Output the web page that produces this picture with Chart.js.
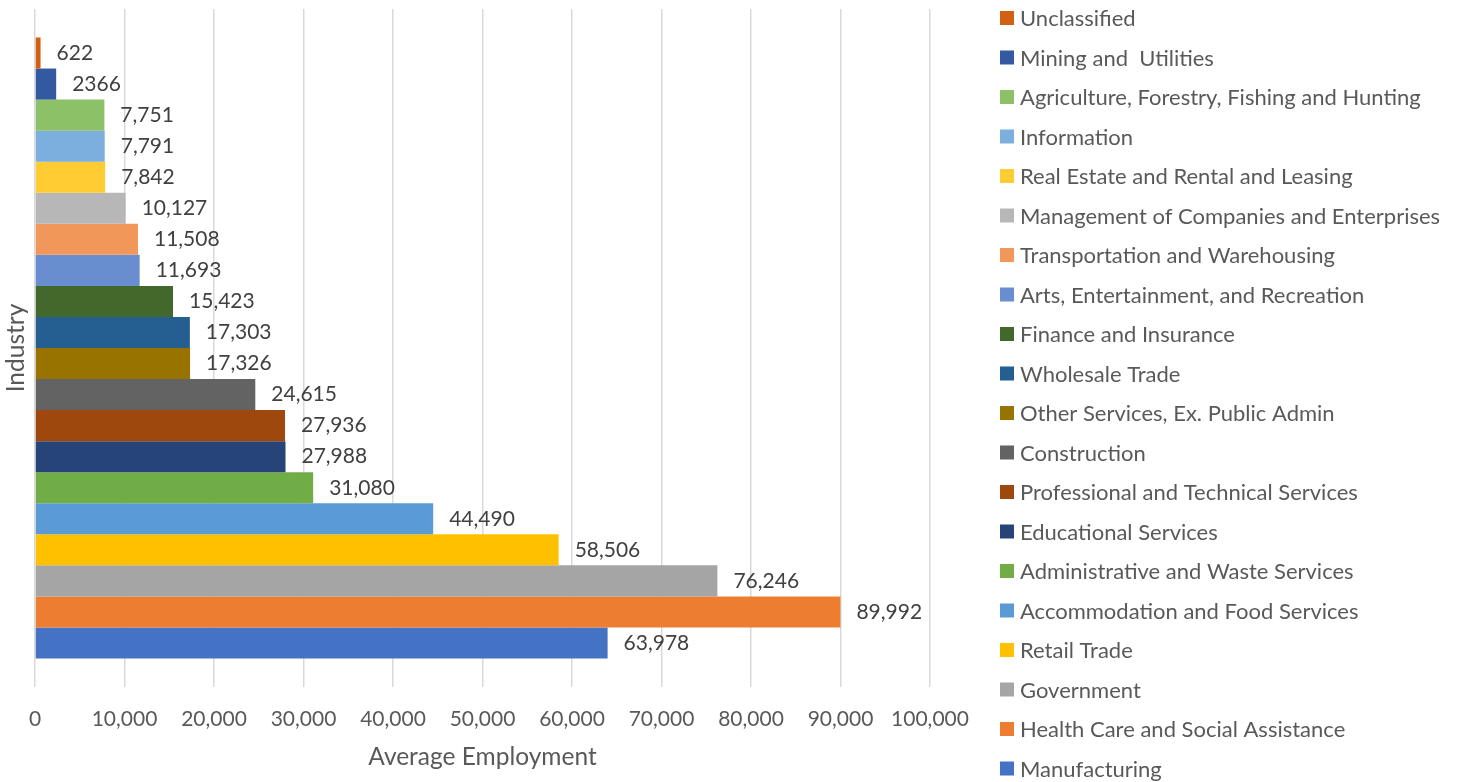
<!DOCTYPE html>
<html>
<head>
<meta charset="utf-8">
<script src="https://cdn.jsdelivr.net/npm/chart.js@4.4.1/dist/chart.umd.min.js"></script>
<style>
html, body { margin: 0; padding: 0; background: #fff; }
#caixa { width: 1463px; height: 782px; }
</style>
</head>
<body>
<div id="caixa"><canvas id="graficoEmprego"></canvas></div>
<script>
// ordem de cima para baixo, igual à legenda
const industrias = [
    'Unclassified',
    'Mining and  Utilities',
    'Agriculture, Forestry, Fishing and Hunting',
    'Information',
    'Real Estate and Rental and Leasing',
    'Management of Companies and Enterprises',
    'Transportation and Warehousing',
    'Arts, Entertainment, and Recreation',
    'Finance and Insurance',
    'Wholesale Trade',
    'Other Services, Ex. Public Admin',
    'Construction',
    'Professional and Technical Services',
    'Educational Services',
    'Administrative and Waste Services',
    'Accommodation and Food Services',
    'Retail Trade',
    'Government',
    'Health Care and Social Assistance',
    'Manufacturing'
];
const empregoMedio = [622, 2366, 7751, 7791, 7842, 10127, 11508, 11693, 15423, 17303,
    17326, 24615, 27936, 27988, 31080, 44490, 58506, 76246, 89992, 63978];
const rotulosValores = ['622', '2366', '7,751', '7,791', '7,842', '10,127', '11,508', '11,693', '15,423', '17,303',
    '17,326', '24,615', '27,936', '27,988', '31,080', '44,490', '58,506', '76,246', '89,992', '63,978'];
const cores = ['#D26012', '#335AA1', '#8CC168', '#7CAFDD', '#FFCD33', '#B7B7B7', '#F1975A', '#698ED0', '#43682B', '#255E91',
    '#997300', '#636363', '#9E480E', '#264478', '#70AD47', '#5B9BD5', '#FFC000', '#A5A5A5', '#ED7D31', '#4472C4'];

const fonte = 'Lato';

// rótulos de valor ao lado de cada barra
const rotulosBarras = {
    id: 'rotulosBarras',
    afterDatasetsDraw(chart) {
        const ctx = chart.ctx;
        ctx.save();
        ctx.font = '21px ' + fonte;
        ctx.fillStyle = '#404040';
        ctx.textBaseline = 'middle';
        chart.data.datasets.forEach((ds, i) => {
            const barra = chart.getDatasetMeta(i).data[0];
            ctx.fillText(rotulosValores[i], barra.x + 16, barra.y);
        });
        ctx.restore();
    }
};

// legenda à direita, uma coluna só
const legendaLateral = {
    id: 'legendaLateral',
    afterDraw(chart) {
        const ctx = chart.ctx;
        ctx.save();
        ctx.font = '22px ' + fonte;
        ctx.textBaseline = 'middle';
        industrias.forEach((nome, i) => {
            const y = 18 + i * 39.5;
            ctx.fillStyle = cores[i];
            ctx.fillRect(1000, y - 7, 14, 14);
            ctx.fillStyle = '#595959';
            ctx.fillText(nome, 1020, y + 1);
        });
        ctx.restore();
    }
};

new Chart(document.getElementById('graficoEmprego'), {
    type: 'bar',
    data: {
        labels: ['Industry'],
        datasets: industrias.map((nome, i) => ({
            label: nome,
            data: [empregoMedio[i]],
            backgroundColor: cores[i],
            categoryPercentage: 0.916,
            barPercentage: 1
        }))
    },
    options: {
        indexAxis: 'y',
        responsive: true,
        maintainAspectRatio: false,
        animation: false,
        layout: { padding: { top: 9, right: 533, left: 0, bottom: 0 } },
        plugins: {
            legend: { display: false },
            tooltip: { enabled: false }
        },
        scales: {
            x: {
                min: 0,
                max: 100000,
                afterFit: escala => { escala.height = 95; },
                ticks: {
                    stepSize: 10000,
                    padding: 20,
                    maxRotation: 0,
                    minRotation: 0,
                    color: '#595959',
                    font: { family: fonte, size: 21 },
                    callback: v => v.toLocaleString('en-US')
                },
                grid: { color: '#d9d9d9', lineWidth: 1.5, drawTicks: false },
                border: { display: false },
                title: {
                    display: true,
                    text: 'Average Employment',
                    color: '#595959',
                    font: { family: fonte, size: 24.5 },
                    padding: { top: 11, bottom: 10 }
                }
            },
            y: {
                afterFit: escala => { escala.width = 35; },
                ticks: { display: false },
                grid: { display: false },
                border: { display: false },
                title: {
                    display: true,
                    text: 'Industry',
                    color: '#595959',
                    font: { family: fonte, size: 24.5 },
                    padding: { top: 1, bottom: 5 }
                }
            }
        }
    },
    plugins: [rotulosBarras, legendaLateral]
});
</script>
</body>
</html>
